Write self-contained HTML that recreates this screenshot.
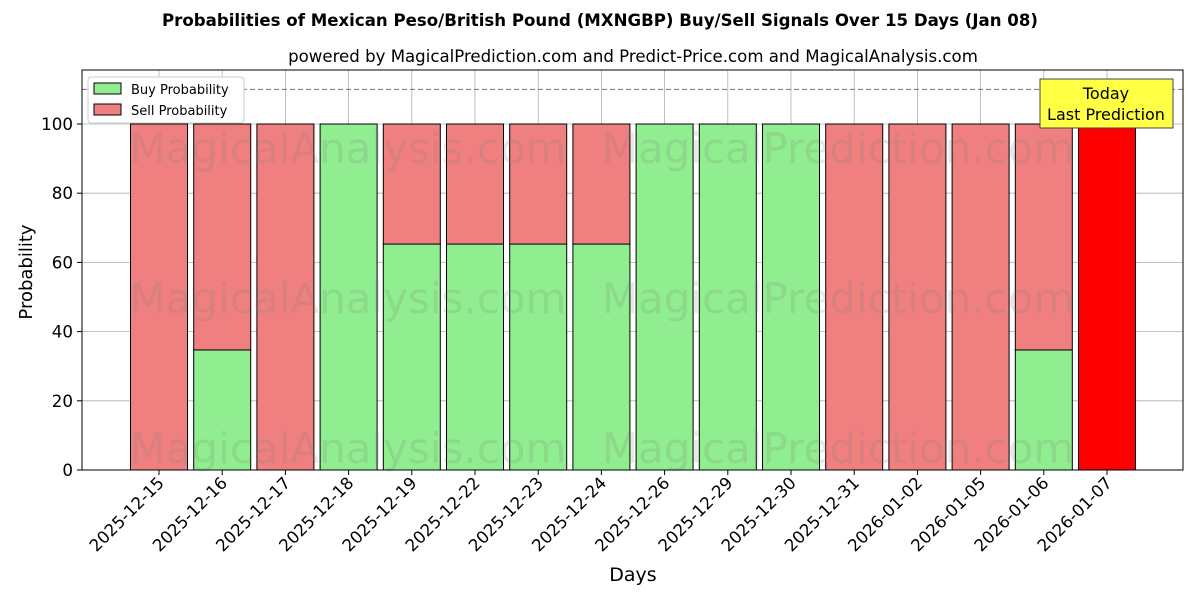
<!DOCTYPE html>
<html><head><meta charset="utf-8"><style>body{margin:0;background:#fff}svg{font-family:"DejaVu Sans","Liberation Sans",sans-serif}</style></head>
<body>
<svg id="chart" width="1200" height="600" xmlns="http://www.w3.org/2000/svg">
<text x="600" y="26" text-anchor="middle" font-size="16.6" font-weight="bold">Probabilities of Mexican Peso/British Pound (MXNGBP) Buy/Sell Signals Over 15 Days (Jan 08)</text>
<text x="633" y="62" text-anchor="middle" font-size="16.6">powered by MagicalPrediction.com and Predict-Price.com and MagicalAnalysis.com</text>
<g id="grid"></g>
<g id="bars"></g>
<g id="wm" font-size="42" fill="rgba(120,120,120,0.18)">
<text x="348" y="163" text-anchor="middle">MagicalAnalysis.com</text>
<text x="838" y="163" text-anchor="middle">MagicalPrediction.com</text>
<text x="348" y="313" text-anchor="middle">MagicalAnalysis.com</text>
<text x="838" y="313" text-anchor="middle">MagicalPrediction.com</text>
<text x="348" y="463" text-anchor="middle">MagicalAnalysis.com</text>
<text x="838" y="463" text-anchor="middle">MagicalPrediction.com</text>
</g>
<line x1="82" x2="1183" y1="89.4" y2="89.4" stroke="#777" stroke-dasharray="5,3"/>
<rect x="82" y="70" width="1101" height="400" fill="none" stroke="#000"/>
<g id="axes"></g>
<g>
<rect x="88" y="77" width="156" height="46" fill="#fff" stroke="#ccc" rx="3"/>
<rect x="94" y="83" width="27" height="11" fill="#90ee90" stroke="#000"/>
<text x="131" y="94" font-size="13">Buy Probability</text>
<rect x="94" y="104" width="27" height="11" fill="#f08080" stroke="#000"/>
<text x="131" y="115" font-size="13">Sell Probability</text>
</g>
<g>
<rect x="1040" y="79" width="133" height="49" fill="#ffff44" stroke="#444"/>
<text x="1106" y="99" text-anchor="middle" font-size="16">Today</text>
<text x="1106" y="120" text-anchor="middle" font-size="16">Last Prediction</text>
</g>
<text x="633" y="581" text-anchor="middle" font-size="19">Days</text>
<text transform="translate(32,272) rotate(-90)" text-anchor="middle" font-size="18">Probability</text>
</svg>
<script>
const days=["2025-12-15","2025-12-16","2025-12-17","2025-12-18","2025-12-19","2025-12-22","2025-12-23","2025-12-24","2025-12-26","2025-12-29","2025-12-30","2025-12-31","2026-01-02","2026-01-05","2026-01-06","2026-01-07"];
const buy=[0,34.7,0,100,65.3,65.3,65.3,65.3,100,100,100,0,0,0,34.7,0];
const sell=[100,65.3,100,0,34.7,34.7,34.7,34.7,0,0,0,100,100,100,65.3,100];
const yTicks=[0,20,40,60,80,100];
const NS="http://www.w3.org/2000/svg";
const xs=i=>159+i*63.2;
const ys=v=>470-v*3.46;
const bw=57;
function mk(t,a,p){const e=document.createElementNS(NS,t);for(const k in a)e.setAttribute(k,a[k]);p.appendChild(e);return e;}
const grid=document.getElementById('grid'),bars=document.getElementById('bars'),axes=document.getElementById('axes');
yTicks.forEach(v=>{
const g=mk('line',{x1:82,x2:1183,y1:ys(v),y2:ys(v),stroke:'#b0b0b0','stroke-width':0.8},grid);


mk('line',{x1:77,x2:82,y1:ys(v),y2:ys(v),stroke:'#000'},axes);
const t=mk('text',{x:73,y:ys(v)+6,'text-anchor':'end','font-size':16.7},axes);t.textContent=v;


});
days.forEach((d,i)=>{
const x=xs(i);
const g=mk('line',{x1:x,x2:x,y1:70,y2:470,stroke:'#b0b0b0','stroke-width':0.8},grid);


const last=i===days.length-1;
if(buy[i]>0){const b=mk('rect',{x:x-bw/2,y:ys(buy[i]),width:bw,height:ys(0)-ys(buy[i]),fill:'#90ee90',stroke:'#000'},bars);

}
if(sell[i]>0){const s=mk('rect',{x:x-bw/2,y:ys(buy[i]+sell[i]),width:bw,height:ys(buy[i])-ys(buy[i]+sell[i]),fill:last?'#ff0000':'#f08080',stroke:'#000'},bars);

}
mk('line',{x1:x,x2:x,y1:470,y2:475,stroke:'#000'},axes);
const t=mk('text',{x:0,y:0,'text-anchor':'end','font-size':16.7,transform:`translate(${x+6},${484}) rotate(-45)`},axes);t.textContent=d;


});
</script>
</body></html>
